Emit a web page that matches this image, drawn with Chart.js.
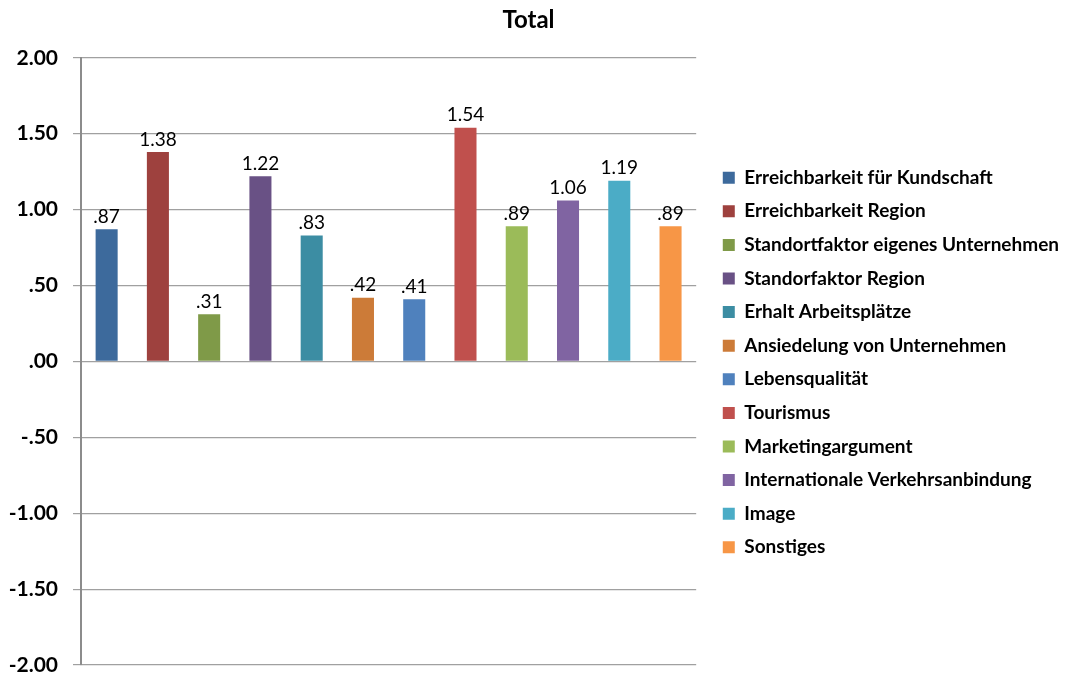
<!DOCTYPE html>
<html>
<head>
<meta charset="utf-8">
<title>Total</title>
<script src="https://cdn.jsdelivr.net/npm/chart.js@4.4.1/dist/chart.umd.min.js"></script>
<style>
  html, body { margin: 0; padding: 0; background: #fff; }
  #wrap { width: 1067px; height: 675px; position: relative; }
</style>
</head>
<body>
<div id="wrap"><canvas id="totalChart"></canvas></div>
<script>
// ==== DATA ====
const categories = [
  "Erreichbarkeit für Kundschaft",
  "Erreichbarkeit Region",
  "Standortfaktor eigenes Unternehmen",
  "Standorfaktor Region",
  "Erhalt Arbeitsplätze",
  "Ansiedelung von Unternehmen",
  "Lebensqualität",
  "Tourismus",
  "Marketingargument",
  "Internationale Verkehrsanbindung",
  "Image",
  "Sonstiges"
];
const values = [0.87, 1.38, 0.31, 1.22, 0.83, 0.42, 0.41, 1.54, 0.89, 1.06, 1.19, 0.89];
const barColors = [
  "#3D6A9C", "#9E413E", "#7F9A48", "#695185", "#3C8DA3", "#CC7B38",
  "#4F81BD", "#C0504D", "#9BBB59", "#8064A2", "#4BACC6", "#F79646"
];
const yTicks = [-2, -1.5, -1, -0.5, 0, 0.5, 1, 1.5, 2];

const FONT = "Lato, 'Open Sans', 'Liberation Sans', sans-serif";

// Excel style number: .87 instead of 0.87
function fmt(v) {
  const s = Math.abs(v).toFixed(2).replace(/^0\./, ".");
  return (v < 0 ? "-" : "") + s;
}

// value labels above bars
const valueLabels = {
  id: "valueLabels",
  afterDatasetsDraw(chart) {
    const ctx = chart.ctx;
    const meta = chart.getDatasetMeta(0);
    ctx.save();
    ctx.font = "19px " + FONT;
    ctx.fillStyle = "#000";
    ctx.textAlign = "center";
    ctx.textBaseline = "bottom";
    meta.data.forEach((bar, i) => {
      ctx.fillText(fmt(values[i]), bar.x, bar.y - 3);
    });
    ctx.restore();
  }
};

// push the legend a bit away from the plot (gap like the original)
const legendShift = {
  id: "legendShift",
  afterLayout(chart) {
    if (!chart.legend) return;
    chart.legend.left += 12;
    chart.legend.right += 12;
  }
};

new Chart(document.getElementById("totalChart").getContext("2d"), {
  type: "bar",
  data: {
    labels: categories,
    datasets: [
      {
        label: "Total",
        data: values,
        backgroundColor: barColors,
        borderWidth: 0,
        categoryPercentage: 1,
        barPercentage: 0.43
      }
    ]
  },
  options: {
    responsive: true,
    maintainAspectRatio: false,
    animation: false,
    layout: {
      autoPadding: false,
      padding: { left: 0, right: 10, top: 0, bottom: 10 }
    },
    plugins: {
      tooltip: { enabled: false },
      title: {
        display: true,
        text: "Total",
        color: "#000",
        font: { family: FONT, size: 24, weight: "bold" },
        padding: { top: 6, bottom: 23 }
      },
      legend: {
        position: "right",
        maxWidth: 420,
        title: {
          display: true,
          text: " ",
          font: { size: 10 },
          padding: { top: 48, bottom: 0 }
        },
        labels: {
          boxWidth: 12,
          boxHeight: 12,
          padding: 14.6,
          color: "#000",
          font: { family: FONT, size: 19, weight: "bold" },
          generateLabels: () =>
            categories.map((c, i) => ({
              text: c,
              fillStyle: barColors[i],
              strokeStyle: barColors[i],
              fontColor: "#000",
              lineWidth: 0,
              hidden: false,
              index: i
            }))
        },
        onClick: null
      }
    },
    scales: {
      x: {
        display: false
      },
      y: {
        min: -2,
        max: 2,
        afterBuildTicks: axis => {
          axis.ticks = yTicks.map(v => ({ value: v }));
        },
        afterFit: axis => {
          axis.width = 81;
          // labels may hang over the plot edges, like in Excel
          axis.paddingTop = 0;
          axis.paddingBottom = 0;
        },
        grid: {
          color: "#a0a0a0",
          lineWidth: 1.2,
          tickLength: 8
        },
        border: { display: true, color: "#8c8c8c", width: 2 },
        ticks: {
          color: "#000",
          padding: 15,
          font: { family: FONT, size: 21, weight: "bold" },
          callback: v => fmt(v)
        }
      }
    }
  },
  plugins: [valueLabels, legendShift]
});
</script>
</body>
</html>
